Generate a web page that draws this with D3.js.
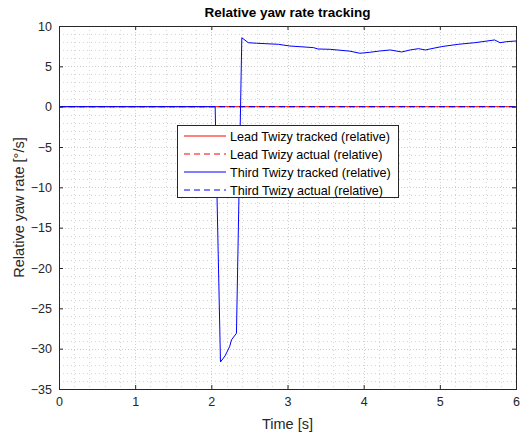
<!DOCTYPE html>
<html><head><meta charset="utf-8">
<script src="https://cdn.jsdelivr.net/npm/d3@7"></script>
<style>body{margin:0;background:#fff;} svg{display:block;font-family:"Liberation Sans",Arial,sans-serif;}</style>
</head><body>
<script>
// ---- data ----
const leadTime = [0, 6];
const leadTracked = [0, 0];
const leadActual = [0, 0];
const thirdActualTime = [0, 6];
const thirdActual = [0, 0];
const thirdTime = [0, 2.05, 2.12, 2.18, 2.24, 2.265, 2.33, 2.40, 2.485, 2.595, 2.88, 3.03, 3.34, 3.40, 3.56, 3.82, 3.95, 4.08, 4.21, 4.35, 4.50, 4.61, 4.72, 4.81, 4.87, 5.02, 5.24, 5.46, 5.72, 5.79, 5.88, 6.0];
const thirdTracked = [0, 0, -31.65, -30.9, -29.75, -28.9, -28.1, 8.55, 7.93, 7.86, 7.73, 7.52, 7.32, 7.15, 7.11, 6.88, 6.62, 6.74, 6.9, 7.03, 6.78, 7.03, 7.19, 7.03, 7.15, 7.44, 7.73, 7.93, 8.27, 7.93, 8.06, 8.14];
const xTicks = [0, 1, 2, 3, 4, 5, 6];
const yTicks = [10, 5, 0, -5, -10, -15, -20, -25, -30, -35];
const legendLabels = ["Lead Twizy tracked (relative)", "Lead Twizy actual (relative)", "Third Twizy tracked (relative)", "Third Twizy actual (relative)"];

const W = 525, H = 437;
const L = 59, R = 516, T = 26, B = 389;
const svg = d3.select("body").append("svg").attr("width", W).attr("height", H);
const x = d3.scaleLinear().domain([0, 6]).range([L, R]);
const y = d3.scaleLinear().domain([-35, 10]).range([B, T]);
const axC = "#262626";

// grid
const g = svg.append("g");
const xMinor = d3.range(0, 6.0001, 0.2).filter(v => Math.abs(v - Math.round(v)) > 1e-6);
const yMinor = d3.range(-35, 10.0001, 1).filter(v => v % 5 !== 0);
g.selectAll(".xm").data(xMinor).enter().append("line")
  .attr("x1", d => Math.round(x(d)) + 0.5).attr("x2", d => Math.round(x(d)) + 0.5).attr("y1", T).attr("y2", B)
  .attr("stroke", "#d4d4d4").attr("stroke-width", 1).attr("stroke-dasharray", "1,3");
g.selectAll(".ym").data(yMinor).enter().append("line")
  .attr("y1", d => Math.round(y(d)) + 0.5).attr("y2", d => Math.round(y(d)) + 0.5).attr("x1", L).attr("x2", R)
  .attr("stroke", "#d4d4d4").attr("stroke-width", 1).attr("stroke-dasharray", "1,3");
g.selectAll(".xM").data(xTicks).enter().append("line")
  .attr("x1", d => Math.round(x(d)) + 0.5).attr("x2", d => Math.round(x(d)) + 0.5).attr("y1", T).attr("y2", B)
  .attr("stroke", "#cfcfcf").attr("stroke-width", 1).attr("stroke-dasharray", "1,2");
g.selectAll(".yM").data(yTicks).enter().append("line")
  .attr("y1", d => Math.round(y(d)) + 0.5).attr("y2", d => Math.round(y(d)) + 0.5).attr("x1", L).attr("x2", R)
  .attr("stroke", "#cfcfcf").attr("stroke-width", 1).attr("stroke-dasharray", "1,2");

// lines
const line = (xs, ys) => d3.line().x((d, i) => x(xs[i])).y(d => y(d))(ys);
const series = [
  {xs: leadTime, ys: leadTracked, c: "#ff0000", dash: null},
  {xs: leadTime, ys: leadActual, c: "#ff0000", dash: "6,4"},
  {xs: thirdTime, ys: thirdTracked, c: "#0000ff", dash: null},
  {xs: thirdActualTime, ys: thirdActual, c: "#0000ff", dash: "6,4"}
];
series.forEach(s => {
  const p = svg.append("path").attr("d", line(s.xs, s.ys)).attr("fill", "none")
    .attr("stroke", s.c).attr("stroke-width", 1);
  if (s.dash) p.attr("stroke-dasharray", s.dash);
});

// axes
const fs = 12.5;
const ff = "Liberation Sans, Arial, sans-serif";
svg.append("g").attr("transform", `translate(0,${B})`)
  .call(d3.axisBottom(x).tickValues(xTicks).tickSize(-4).tickPadding(8).tickFormat(d3.format("d")))
  .call(a => { a.select(".domain").remove(); a.selectAll("line").attr("stroke", axC); a.selectAll("text").attr("fill", axC).attr("font-size", fs).attr("font-family", ff); });
svg.append("g").attr("transform", `translate(0,${T})`)
  .call(d3.axisTop(x).tickValues(xTicks).tickSize(-4).tickFormat(""))
  .call(a => { a.select(".domain").remove(); a.selectAll("line").attr("stroke", axC); });
svg.append("g").attr("transform", `translate(${L},0)`)
  .call(d3.axisLeft(y).tickValues(yTicks).tickSize(-4).tickPadding(7).tickFormat(d3.format("d")))
  .call(a => { a.select(".domain").remove(); a.selectAll("line").attr("stroke", axC); a.selectAll("text").attr("fill", axC).attr("font-size", fs).attr("font-family", ff); });
svg.append("g").attr("transform", `translate(${R},0)`)
  .call(d3.axisRight(y).tickValues(yTicks).tickSize(-4).tickFormat(""))
  .call(a => { a.select(".domain").remove(); a.selectAll("line").attr("stroke", axC); });
svg.append("rect").attr("x", L + 0.5).attr("y", T + 0.5).attr("width", R - L).attr("height", B - T)
  .attr("fill", "none").attr("stroke", axC).attr("stroke-width", 1);

// labels
svg.append("text").attr("x", (L + R) / 2).attr("y", 17).attr("text-anchor", "middle")
  .attr("font-size", 13.5).attr("font-weight", "bold").attr("fill", "#000").text("Relative yaw rate tracking");
svg.append("text").attr("x", (L + R) / 2).attr("y", 429).attr("text-anchor", "middle")
  .attr("font-size", 14.5).attr("fill", axC).text("Time [s]");
svg.append("text").attr("transform", `translate(24,${(T + B) / 2}) rotate(-90)`).attr("text-anchor", "middle")
  .attr("font-size", 14.5).attr("fill", axC).text("Relative yaw rate [°/s]");

// legend
const lg = svg.append("g");
lg.append("rect").attr("x", 177.5).attr("y", 125.5).attr("width", 221).attr("height", 72)
  .attr("fill", "#fff").attr("stroke", axC).attr("stroke-width", 1);
const rowsY = [136, 154, 172, 190];
legendLabels.forEach((lab, i) => {
  const s = series[i];
  const ln = lg.append("line").attr("x1", 184).attr("x2", 226).attr("y1", rowsY[i]).attr("y2", rowsY[i])
    .attr("stroke", s.c).attr("stroke-width", 1);
  if (s.dash) ln.attr("stroke-dasharray", s.dash);
  lg.append("text").attr("x", 230).attr("y", rowsY[i] + 4.5).attr("font-size", 12.6).attr("fill", "#000").text(lab);
});
</script>
</body></html>
